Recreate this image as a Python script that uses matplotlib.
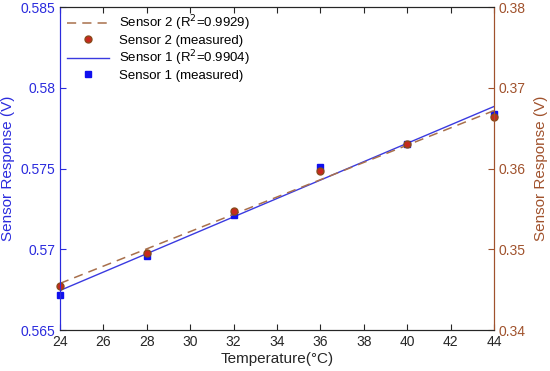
import numpy as np
import matplotlib
matplotlib.use('Agg')
import matplotlib.pyplot as plt

plt.rcParams['font.family'] = ['Liberation Sans', 'DejaVu Sans']

# data
temperature = [24, 28, 32, 36, 40, 44]
sensor1 = [0.5672, 0.5696, 0.5721, 0.5751, 0.5765, 0.5784]   # left axis
sensor2 = [0.3455, 0.3496, 0.3547, 0.3597, 0.3630, 0.3664]   # right axis
r2_sensor1 = 0.9904
r2_sensor2 = 0.9929

blue = '#2b2bdd'
brown = '#a0522d'
red = '#c8281e'

fig = plt.figure(figsize=(5.5, 3.71), dpi=100)
ax1 = fig.add_axes([0.109, 0.11, 0.789, 0.871])
ax2 = ax1.twinx()

# linear fits
t = np.array(temperature)
p1 = np.polyfit(t, sensor1, 1)
p2 = np.polyfit(t, sensor2, 1)
tt = np.array([24, 44])

l2, = ax2.plot(tt, np.polyval(p2, tt), '--', color='#a8704c', lw=1.1, dashes=(6, 4),
               label='Sensor 2 (R$^2$=%.4f)' % r2_sensor2)
m2, = ax2.plot(temperature, sensor2, 'o', color=red, mec='#8a4a1a', ms=5,
               clip_on=False, label='Sensor 2 (measured)')
l1, = ax1.plot(tt, np.polyval(p1, tt), '-', color='#3a3ae0', lw=1.0,
               label='Sensor 1 (R$^2$=%.4f)' % r2_sensor1)
m1, = ax1.plot(temperature, sensor1, 's', color='#1010ee', ms=4.5,
               clip_on=False, label='Sensor 1 (measured)')

ax1.set_xlim(24, 44)
ax1.set_xticks(range(24, 45, 2))
ax1.set_ylim(0.565, 0.585)
ax1.set_yticks([0.565, 0.57, 0.575, 0.58, 0.585])
ax1.set_yticklabels(['0.565', '0.57', '0.575', '0.58', '0.585'])
ax2.set_ylim(0.34, 0.38)
ax2.set_yticks([0.34, 0.35, 0.36, 0.37, 0.38])
ax2.set_yticklabels(['0.34', '0.35', '0.36', '0.37', '0.38'])

ax1.set_xlabel('Temperature(°C)', fontsize=11, color='#262626', labelpad=2)
ax1.set_ylabel('Sensor Response (V)', fontsize=11, color=blue, labelpad=4)
ax2.set_ylabel('Sensor Response (V)', fontsize=11, color=brown, labelpad=6)

ax1.tick_params(axis='x', direction='in', top=True, labelsize=10, colors='#262626', length=4)
ax1.tick_params(axis='y', direction='in', labelsize=10, colors=blue, length=4)
ax2.tick_params(axis='y', direction='in', labelsize=10, colors=brown, length=4)
ax2.tick_params(axis='x', direction='in', top=True, length=4)

for ax in (ax1, ax2):
    ax.spines['left'].set_color(blue)
    ax.spines['right'].set_color(brown)
    ax.spines['top'].set_color('#262626')
    ax.spines['bottom'].set_color('#262626')
    for s in ax.spines.values():
        s.set_linewidth(0.8)

ax2.legend(handles=[l2, m2, l1, m1], loc='upper left', frameon=False, fontsize=9.5,
           handlelength=3.2, borderaxespad=0.1, labelspacing=0.12, handletextpad=0.8)

fig.savefig('out.png', dpi=100)
